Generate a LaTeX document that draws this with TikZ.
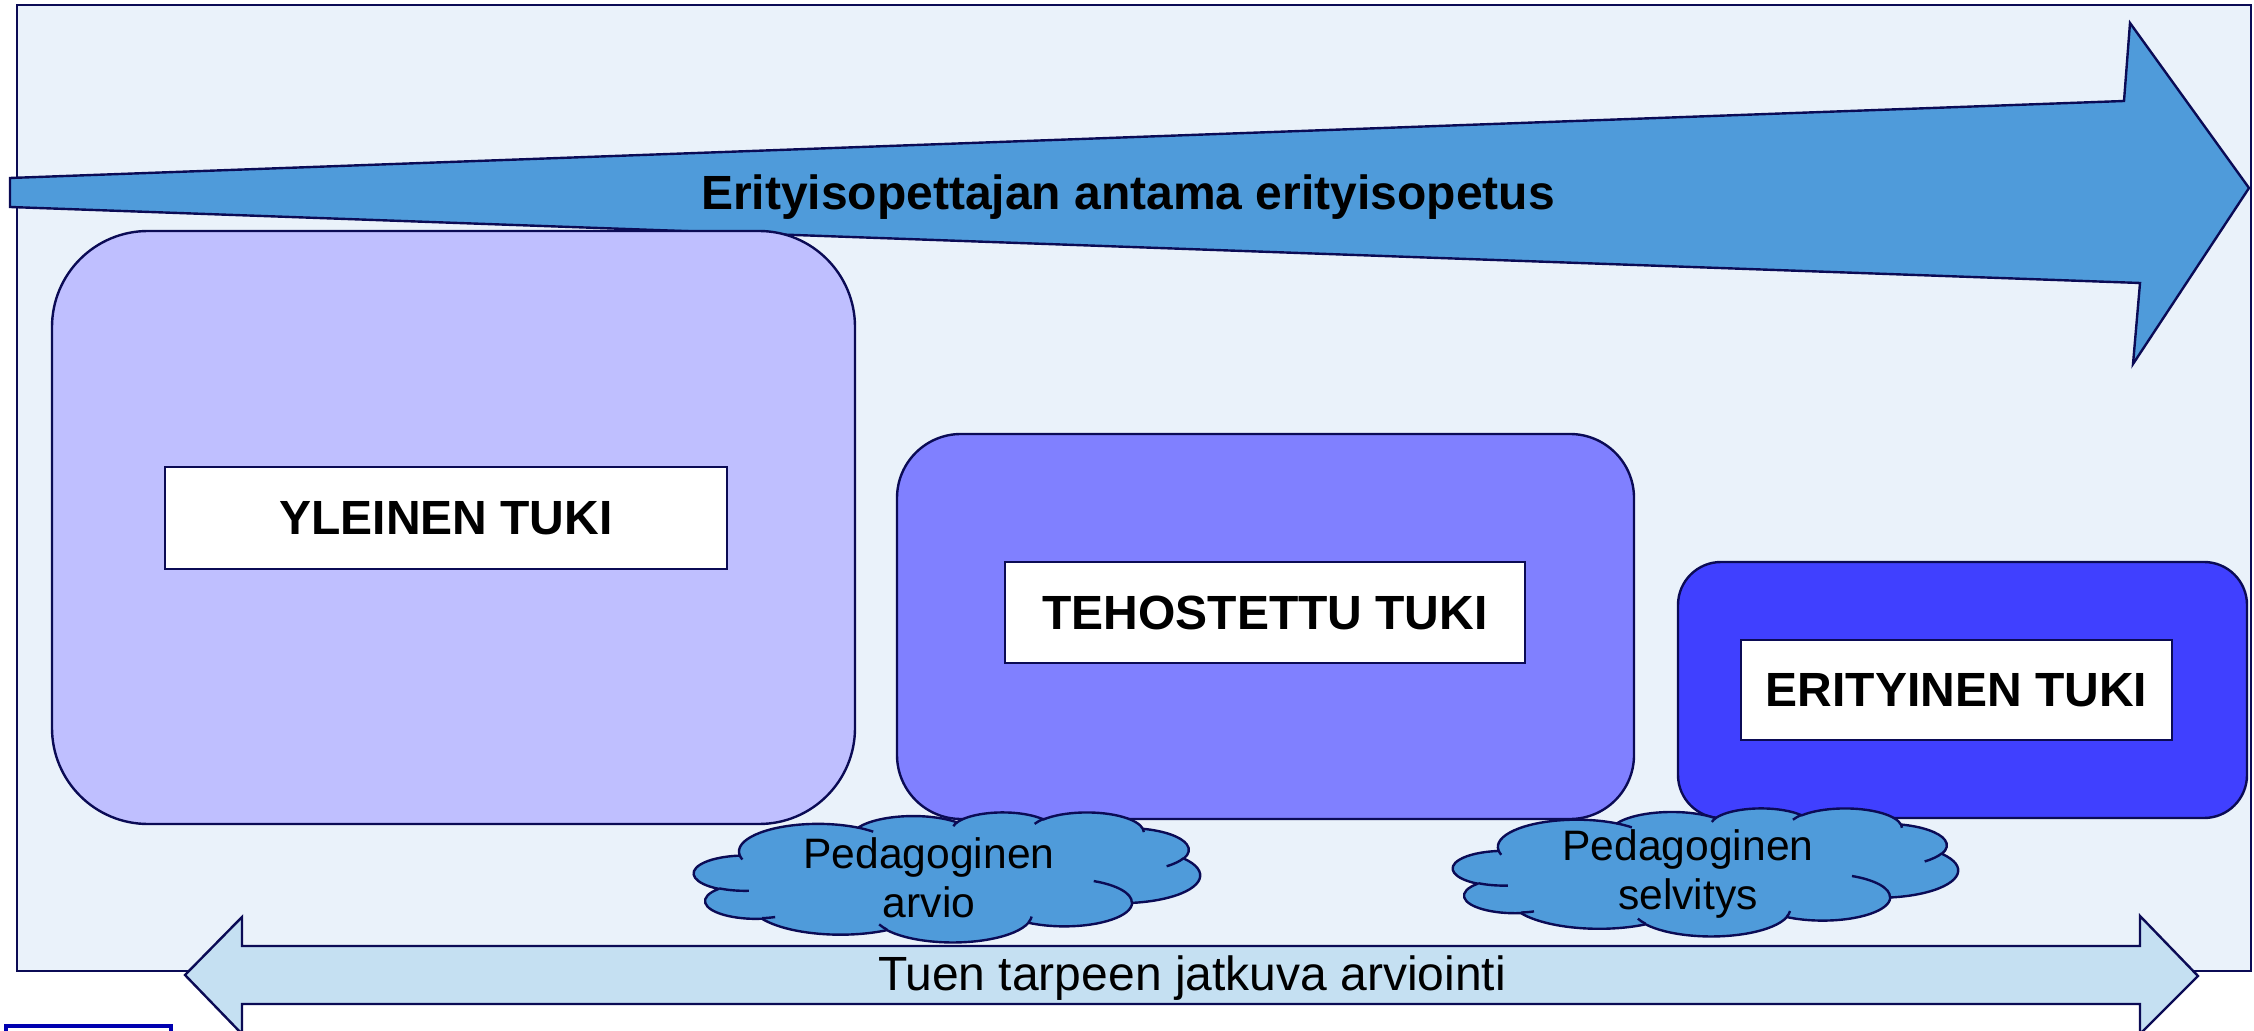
\documentclass[tikz,border=0pt]{standalone}
\usepackage{fontspec}
\setmainfont{Liberation Sans}
\definecolor{bgfill}{HTML}{EAF2FA}
\definecolor{arrowfill}{HTML}{4F9BDA}
\definecolor{boxA}{HTML}{BFBFFF}
\definecolor{boxB}{HTML}{8080FF}
\definecolor{boxC}{HTML}{4040FF}
\definecolor{lowfill}{HTML}{C5E0F2}
\definecolor{navy}{HTML}{0B0B55}
\definecolor{markblue}{HTML}{0000B0}
\pgfmathdeclarefunction{visang}{3}{%
  \begingroup
    \pgfmathparse{#1+mod(atan2(#2*sin(#1),#3*cos(#1))-(#1)+540,360)-180}%
    \pgfmathsmuggle\pgfmathresult
  \endgroup}
\tikzset{
  outline/.style={draw=navy, line width=1.2pt},
  panel/.style={outline, rectangle, inner sep=0pt},
  label box/.style={draw=navy, line width=0.9pt, fill=white, rectangle, inner sep=0pt,
     font=\fontsize{24}{28}\selectfont\bfseries},
  puff text/.style={align=center, font=\fontsize{21.3}{24.5}\selectfont, inner sep=0pt},
  va/.style n args={4}{start angle={visang(#1,#3,#4)}, end angle={visang(#1+#2,#3,#4)}, x radius=#3, y radius=#4},
}
\newcommand\cloudshape[1]{%
\begin{scope}[#1]
\draw[outline, fill=arrowfill, line join=round] (39.00,143.70)
  arc[va={-190.48748}{123.78053}{67.53}{91.90}]
  arc[va={-144.10238}{89.94523}{53.33}{72.67}]
  arc[va={-145.80792}{99.72302}{43.65}{59.45}]
  arc[va={-130.98607}{117.24173}{48.57}{65.95}]
  arc[va={-78.70888}{109.02692}{53.33}{72.73}]
  arc[va={-46.26725}{130.26900}{67.75}{92.20}]
  arc[va={0.62502}{114.03333}{57.85}{78.67}]
  arc[va={22.45160}{115.17255}{67.52}{92.15}]
  arc[va={66.24263}{75.71102}{77.20}{105.43}]
  arc[va={-274.94208}{146.73557}{43.60}{59.18}]
  arc[va={-246.82850}{152.51885}{43.45}{59.45}]
  -- cycle;
\draw[outline]
  (46.93,261.77) arc[va={86.74200}{26.42950}{43.45}{59.45}]
  (69.28,348.99) arc[va={73.61047}{11.44747}{43.60}{59.18}]
  (164.78,390.90) arc[va={137.62415}{14.08110}{67.52}{92.15}]
  (288.27,347.51) arc[va={6.45327}{15.99835}{67.52}{92.15}]
  (341.29,229.54) arc[va={-70.29235}{70.91737}{57.85}{78.67}]
  (417.98,153.54) arc[va={30.31803}{27.75150}{53.33}{72.73}]
  (383.24,54.26) arc[va={-13.74433}{14.85890}{48.57}{65.95}]
  (290.78,39.52) arc[va={-149.18145}{18.19537}{48.57}{65.95}]
  (221.41,47.20) arc[va={-163.49427}{17.68635}{43.65}{59.45}]
  (140.00,51.92) arc[va={-66.70695}{12.31935}{67.53}{91.90}]
  (41.27,157.89) arc[va={157.65435}{11.85817}{67.53}{91.90}];
\end{scope}}
\begin{document}
\begin{tikzpicture}[x=0.5pt, y=-0.5pt]
\useasboundingbox (0,0) rectangle (2254,1031);
% background panel
\draw[draw=navy, line width=1pt, fill=bgfill] (17,5) rectangle (2251,971);
% top arrow
\draw[outline, fill=arrowfill, line join=miter]
  (10,178) -- (2124,101) -- (2130,23) -- (2249,188) -- (2133,364) -- (2140,283) -- (10,207) -- cycle;
\node[font=\fontsize{24}{28}\selectfont\bfseries, inner sep=0pt] (title) at (1128,197) {Erityisopettajan antama erityisopetus};
% support level panels
\node[panel, fill=boxA, minimum width=401.5pt, minimum height=296.5pt, rounded corners=48pt] (yleinen) at (453.5,527.5) {};
\node[panel, fill=boxB, minimum width=368.5pt, minimum height=192.5pt, rounded corners=32pt] (tehostettu) at (1265.5,626.5) {};
\node[panel, fill=boxC, minimum width=284.5pt, minimum height=128pt, rounded corners=21.5pt] (erityinen) at (1962.5,690) {};
\node[label box, minimum width=281pt, minimum height=51pt] (yleinenL) at (446,518) {YLEINEN TUKI};
\node[label box, minimum width=260pt, minimum height=50.5pt] (tehostettuL) at (1265,612.5) {TEHOSTETTU TUKI};
\node[label box, minimum width=215.5pt, minimum height=50pt] (erityinenL) at (1956.5,690) {ERITYINEN TUKI};
% clouds
\cloudshape{shift={(694,812)}, xscale=1.171296, yscale=0.300926}
\node[puff text] (arvioT) at (929,878) {Pedagoginen\\arvio};
\cloudshape{shift={(1453,808)}, xscale=1.168981, yscale=0.296296}
\node[puff text] (selvitysT) at (1688,874) {Pedagoginen\\selvitys};
% bottom double arrow
\draw[outline, fill=lowfill, line join=miter]
  (185,975) -- (242,917) -- (242,946) -- (2140,946) -- (2140,916) -- (2198,976)
  -- (2140,1034) -- (2140,1004) -- (242,1004) -- (242,1034) -- cycle;
\node[font=\fontsize{24}{28}\selectfont, inner sep=0pt] (jatkuva) at (1192,978) {Tuen tarpeen jatkuva arviointi};
% small mark at bottom left
\draw[draw=markblue, line width=2pt, fill=white] (6,1026) rectangle (171,1060);
\end{tikzpicture}
\end{document}
